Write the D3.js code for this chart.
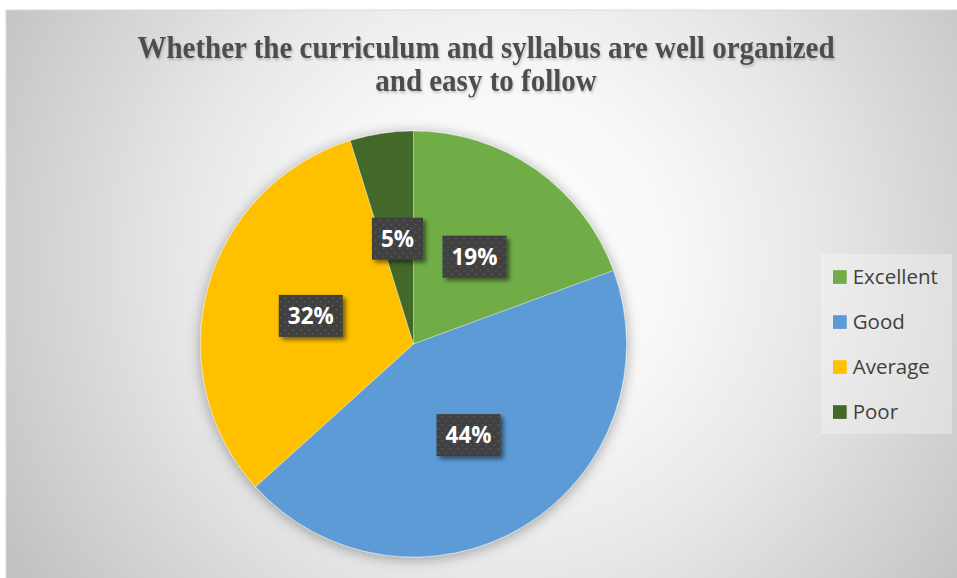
<!DOCTYPE html>
<html>
<head>
<meta charset="utf-8">
<script src="https://cdn.jsdelivr.net/npm/d3@7"></script>
<style>
  html, body { margin: 0; padding: 0; background: #ffffff; overflow: hidden; }
  svg { display: block; }
</style>
</head>
<body>
<svg id="chart" width="957" height="578"></svg>
<script>
// ---- data ----
const categories = ["Excellent", "Good", "Average", "Poor"];
const values = [19.4, 43.9, 31.9, 4.8];
const colors = ["#70AD47", "#5B9BD5", "#FFC000", "#43682B"];
const titleLines = ["Whether the curriculum and syllabus are well organized", "and easy to follow"];

const W = 957, H = 578;
const svg = d3.select("#chart");
const defs = svg.append("defs");

// background gradient
const bg = defs.append("radialGradient").attr("id", "bgGrad")
  .attr("gradientUnits", "userSpaceOnUse")
  .attr("cx", 500).attr("cy", 260).attr("r", 570);
bg.append("stop").attr("offset", 0).attr("stop-color", "#ffffff");
bg.append("stop").attr("offset", 0.3).attr("stop-color", "#f8f8f8");
bg.append("stop").attr("offset", 0.55).attr("stop-color", "#e8e8e8");
bg.append("stop").attr("offset", 1).attr("stop-color", "#c2c2c2");

// pie shadow
const pf = defs.append("filter").attr("id", "pieShadow")
  .attr("x", "-20%").attr("y", "-20%").attr("width", "140%").attr("height", "140%");
pf.append("feGaussianBlur").attr("in", "SourceAlpha").attr("stdDeviation", 7).attr("result", "b");
pf.append("feOffset").attr("in", "b").attr("dx", 0).attr("dy", 2).attr("result", "o");
pf.append("feComponentTransfer").attr("in", "o").attr("result", "s")
  .append("feFuncA").attr("type", "linear").attr("slope", 0.35);
const pm = pf.append("feMerge");
pm.append("feMergeNode").attr("in", "s");
pm.append("feMergeNode").attr("in", "SourceGraphic");

// label shadow
const lf = defs.append("filter").attr("id", "lblShadow")
  .attr("x", "-30%").attr("y", "-30%").attr("width", "160%").attr("height", "160%");
lf.append("feGaussianBlur").attr("in", "SourceAlpha").attr("stdDeviation", 2).attr("result", "b");
lf.append("feOffset").attr("in", "b").attr("dx", 3).attr("dy", 3).attr("result", "o");
lf.append("feComponentTransfer").attr("in", "o").attr("result", "s")
  .append("feFuncA").attr("type", "linear").attr("slope", 0.5);
const lm = lf.append("feMerge");
lm.append("feMergeNode").attr("in", "s");
lm.append("feMergeNode").attr("in", "SourceGraphic");

// title shadow
const tf = defs.append("filter").attr("id", "txtShadow")
  .attr("x", "-5%").attr("y", "-30%").attr("width", "110%").attr("height", "160%");
tf.append("feGaussianBlur").attr("in", "SourceAlpha").attr("stdDeviation", 1).attr("result", "b");
tf.append("feOffset").attr("in", "b").attr("dx", 1).attr("dy", 1.5).attr("result", "o");
tf.append("feComponentTransfer").attr("in", "o").attr("result", "s")
  .append("feFuncA").attr("type", "linear").attr("slope", 0.2);
const tm = tf.append("feMerge");
tm.append("feMergeNode").attr("in", "s");
tm.append("feMergeNode").attr("in", "SourceGraphic");

// dotted pattern for label boxes
const pat = defs.append("pattern").attr("id", "dots")
  .attr("patternUnits", "userSpaceOnUse").attr("width", 8).attr("height", 8);
pat.append("rect").attr("width", 8).attr("height", 8).attr("fill", "#404040");
pat.append("rect").attr("x", 1).attr("y", 1).attr("width", 1.6).attr("height", 1.6).attr("fill", "#5c5c5c");
pat.append("rect").attr("x", 5).attr("y", 5).attr("width", 1.6).attr("height", 1.6).attr("fill", "#5c5c5c");

// chart area
svg.append("rect").attr("x", 6).attr("y", 10).attr("width", 960).attr("height", 580)
  .attr("fill", "url(#bgGrad)").attr("stroke", "#d9d9d9").attr("stroke-width", 1);

// title (slightly stretched vertically like the reference)
const title = svg.append("g").attr("filter", "url(#txtShadow)");
titleLines.forEach((t, i) => {
  const by = 58 + i * 33;
  title.append("text")
    .attr("text-anchor", "middle")
    .attr("font-family", "'Liberation Serif', 'Times New Roman', serif")
    .attr("font-weight", "bold")
    .attr("font-size", 29)
    .attr("fill", "#4d4d4d")
    .attr("transform", `translate(486,${by}) scale(1,1.06)`)
    .text(t);
});

// pie
const cx = 413.5, cy = 344, R = 213;
const pie = d3.pie().sort(null).value(d => d.v);
const arc = d3.arc().innerRadius(0).outerRadius(R);
const data = categories.map((c, i) => ({ c, v: values[i], col: colors[i] }));
const arcs = pie(data);

const g = svg.append("g").attr("transform", `translate(${cx},${cy})`);
g.append("g").attr("filter", "url(#pieShadow)")
  .selectAll("path").data(arcs).enter().append("path")
  .attr("d", arc)
  .attr("fill", d => d.data.col)
  .attr("stroke", "#ffffff").attr("stroke-opacity", 0.5).attr("stroke-width", 0.7);

// labels
const labFont = 22.5;
const lg = g.append("g").selectAll("g").data(arcs).enter().append("g")
  .attr("transform", d => { const p = arc.centroid(d); return `translate(${p[0]},${p[1]})`; });
lg.each(function(d) {
  const sel = d3.select(this);
  const txt = sel.append("text")
    .attr("text-anchor", "middle")
    .attr("font-family", "'Open Sans', sans-serif")
    .attr("font-weight", "bold")
    .attr("font-size", labFont)
    .attr("fill", "#ffffff")
    .attr("y", labFont * 0.714 / 2)
    .text(Math.round(d.data.v) + "%");
  const w = txt.node().getComputedTextLength() + 18;
  const h = 42;
  sel.insert("rect", "text")
    .attr("x", -w / 2).attr("y", -h / 2).attr("width", w).attr("height", h)
    .attr("fill", "url(#dots)")
    .attr("filter", "url(#lblShadow)");
});

// legend
svg.append("rect").attr("x", 821).attr("y", 254).attr("width", 131).attr("height", 180)
  .attr("fill", "#ffffff").attr("fill-opacity", 0.3);
const legY = d3.scalePoint().domain(categories).range([277, 412]);
const leg = svg.append("g").selectAll("g").data(data).enter().append("g")
  .attr("transform", d => `translate(833,${legY(d.c)})`);
leg.append("rect").attr("x", 0).attr("y", -6.8).attr("width", 13.7).attr("height", 13.7)
  .attr("fill", d => d.col);
leg.append("text").attr("x", 19.7).attr("y", 7.3)
  .attr("font-family", "'Open Sans', sans-serif")
  .attr("font-size", 20.5)
  .attr("fill", "#404040")
  .text(d => d.c);
</script>
</body>
</html>
